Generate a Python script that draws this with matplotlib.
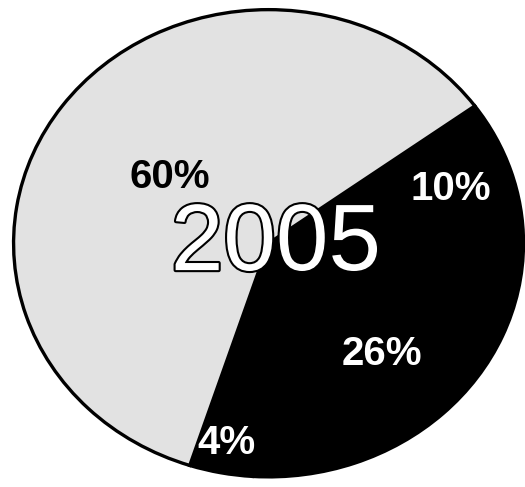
import matplotlib.pyplot as plt
import matplotlib.patheffects as pe
import numpy as np

# Slice values (percent), clockwise from the upper-right boundary
shares = [10, 26, 4, 60]
labels = ['10%', '26%', '4%', '60%']
year_label = '2005'

# Styling per slice
colors = ['black', 'black', 'black', '#e2e2e2']
label_colors = ['white', 'white', 'white', 'black']
label_radius = [0.75, 0.65, 0.87, 0.48]

plt.rcParams['font.family'] = ['Liberation Sans', 'DejaVu Sans']

fig = plt.figure(figsize=(5.25, 4.87), dpi=100)
ax = fig.add_axes([0.021, 0.016, 0.981, 0.969])

wedges, _ = ax.pie(shares, colors=colors, startangle=36, counterclock=False,
                   radius=1.0, wedgeprops=dict(linewidth=0))

# Black outline round the whole pie
for w in wedges:
    w.set_edgecolor('black')
    w.set_linewidth(2.4)

# Percent labels at each slice's mid angle
for w, lab, col, r in zip(wedges, labels, label_colors, label_radius):
    ang = np.deg2rad((w.theta1 + w.theta2) / 2)
    ax.text(r * np.cos(ang), r * np.sin(ang), lab, color=col, fontsize=29,
            fontweight='bold', ha='center', va='center')

# Hollow year label in the middle
ax.text(0.03, -0.01, year_label, fontsize=68, color='white', ha='center', va='center',
        path_effects=[pe.withStroke(linewidth=3, foreground='black')])

ax.set_aspect('auto')
ax.set_xlim(-1.01, 1.01)
ax.set_ylim(-1.01, 1.01)
ax.axis('off')

fig.savefig('out.png', dpi=100, facecolor='white')
